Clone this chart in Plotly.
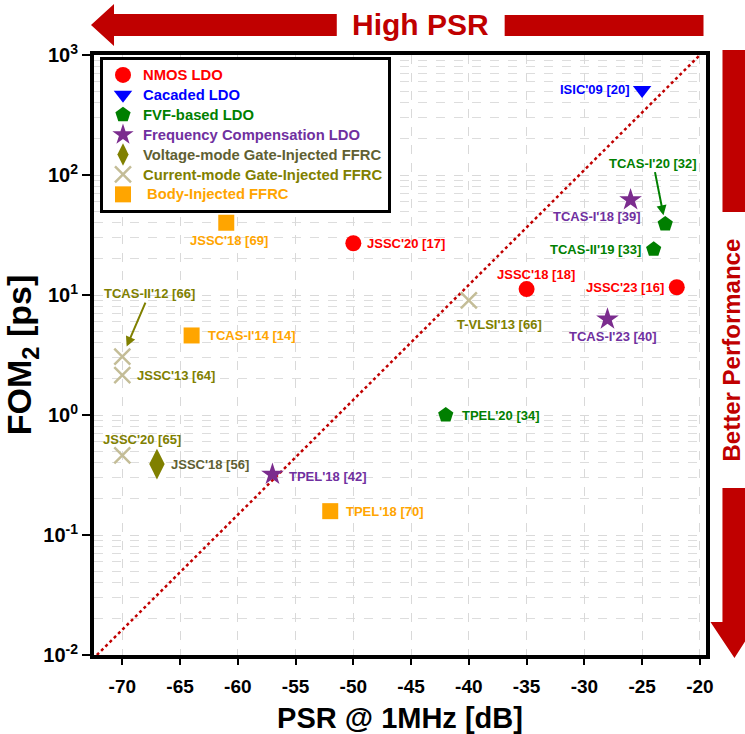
import numpy as np
import plotly.graph_objects as go

# ---------------- data ----------------
nmos_x = [-50, -35, -22]
nmos_y = [27.0, 11.2, 11.6]
nmos_lbl = ["JSSC'20 [17]", "JSSC'18 [18]", "JSSC'23 [16]"]

cas_x = [-25]
cas_y = [510.0]
cas_lbl = ["ISIC'09 [20]"]

fvf_x = [-23, -24, -42]
fvf_y = [39.0, 24.0, 1.0]
fvf_lbl = ["TCAS-I'20 [32]", "TCAS-II'19 [33]", "TPEL'20 [34]"]

fc_x = [-26, -28, -57]
fc_y = [62.0, 6.3, 0.32]
fc_lbl = ["TCAS-I'18 [39]", "TCAS-I'23 [40]", "TPEL'18 [42]"]

vm_x = [-67]
vm_y = [0.39]
vm_lbl = ["JSSC'18 [56]"]

cm_x = [-70, -70, -70, -40]
cm_y = [3.06, 2.15, 0.46, 9.0]
cm_lbl = ["TCAS-II'12 [66]", "JSSC'13 [64]", "JSSC'20 [65]", "T-VLSI'13 [66]"]

bi_x = [-61, -64, -52]
bi_y = [40.0, 4.6, 0.158]
bi_lbl = ["JSSC'18 [69]", "TCAS-I'14 [14]", "TPEL'18 [70]"]

diag_x = [-72.2, -20.0]
diag_y = [0.01, 1000.0]

x_ticks = [-70, -65, -60, -55, -50, -45, -40, -35, -30, -25, -20]
y_decades = [-2, -1, 0, 1, 2, 3]

# ---------------- styles ----------------
FONT = "Liberation Sans, Arial, sans-serif"
series = [
    dict(name="NMOS LDO", x=nmos_x, y=nmos_y, lbl=nmos_lbl, symbol="circle", size=16,
         color="#FF0000", tcolor="#FF0000", line=None),
    dict(name="Cacaded LDO", x=cas_x, y=cas_y, lbl=cas_lbl, symbol="triangle-down", size=16,
         color="#0000FF", tcolor="#0000FF", line=None),
    dict(name="FVF-based LDO", x=fvf_x, y=fvf_y, lbl=fvf_lbl, symbol="pentagon", size=16,
         color="#007F00", tcolor="#008000", line=None),
    dict(name="Frequency Compensation LDO", x=fc_x, y=fc_y, lbl=fc_lbl, symbol="star", size=17,
         color="#7B2C8E", tcolor="#7030A0", line=None),
    dict(name="Voltage-mode Gate-Injected FFRC", x=vm_x, y=vm_y, lbl=vm_lbl, symbol="diamond-tall", size=22,
         color="#808000", tcolor="#5F5F33", line=None),
    dict(name="Current-mode Gate-Injected FFRC", x=cm_x, y=cm_y, lbl=cm_lbl, symbol="x-thin", size=16,
         color="#C4BD97", tcolor="#808000", line=dict(color="#C4BD97", width=2.5)),
    dict(name="&#160;Body-Injected FFRC", x=bi_x, y=bi_y, lbl=bi_lbl, symbol="square", size=16,
         color="#FFA500", tcolor="#FFA500", line=None),
]

# label placement: (xshift, yshift, xanchor, arrow(ax, ay, standoff) or None)
label_pos = {
    "JSSC'20 [17]": (12, 0, "left", None),
    "JSSC'18 [18]": (9, 15, "center", None),
    "JSSC'23 [16]": (-11, 0, "right", None),
    "ISIC'09 [20]": (-10, 1, "right", None),
    "TCAS-I'20 [32]": (0, 0, "center", (-12, -61, 9)),
    "TCAS-II'19 [33]": (-11, 0, "right", None),
    "TPEL'20 [34]": (14, 0, "left", None),
    "TCAS-I'18 [39]": (-34, -17, "center", None),
    "TCAS-I'23 [40]": (6, -17, "center", None),
    "TPEL'18 [42]": (15, -2, "left", None),
    "JSSC'18 [56]": (12, 0, "left", None),
    "TCAS-II'12 [66]": (0, 0, "center", (27, -63, 11)),
    "JSSC'13 [64]": (13, 0, "left", None),
    "JSSC'20 [65]": (20, 16, "center", None),
    "T-VLSI'13 [66]": (31, -24, "center", None),
    "JSSC'18 [69]": (3, -18, "center", None),
    "TCAS-I'14 [14]": (14, 0, "left", None),
    "TPEL'18 [70]": (14, 0, "left", None),
}

fig = go.Figure()

# diagonal reference line
fig.add_trace(go.Scatter(x=diag_x, y=diag_y, mode="lines", showlegend=False,
                         line=dict(color="#C00000", width=2.5, dash="dot"), hoverinfo="skip"))

annotations = []
for s in series:
    mk = dict(symbol=s["symbol"], size=s["size"], color=s["color"])
    if s["line"] is not None:
        mk["line"] = s["line"]
    else:
        mk["line"] = dict(width=0)
    fig.add_trace(go.Scatter(
        x=s["x"], y=s["y"], mode="markers", marker=mk,
        name="<span style='color:%s;font-size:14.8px'><b>%s</b></span>" % (s["tcolor"], s["name"]),
    ))
    for xv, yv, lb in zip(s["x"], s["y"], s["lbl"]):
        xs, ys, xa, arrow = label_pos[lb]
        a = dict(x=xv, y=np.log10(yv), xref="x", yref="y", text="<b>%s</b>" % lb,
                 font=dict(family=FONT, size=13, color=s["tcolor"]))
        if arrow is None:
            a.update(showarrow=False, xshift=xs, yshift=ys, xanchor=xa, yanchor="middle")
        else:
            ax, ay, so = arrow
            a.update(showarrow=True, ax=ax, ay=ay, axref="pixel", ayref="pixel",
                     arrowcolor=s["tcolor"], arrowwidth=2, arrowhead=2, arrowsize=1,
                     standoff=so)
        annotations.append(a)

# ---------------- decorations (paper coordinates from pixels) ----------------
L, R, T, B = 94, 706.5, 55, 655
PW, PH = R - L, B - T


def px(xp):
    return (xp - L) / PW


def py(yp):
    return (B - yp) / PH


def path(points):
    return "M " + " L ".join("%.4f,%.4f" % (px(a), py(b)) for a, b in points) + " Z"


DRED = "#C00000"
shapes = [
    # top-left arrow
    dict(type="path", xref="paper", yref="paper", fillcolor=DRED, line=dict(width=0),
         path=path([(91, 25), (114, 4), (114, 14), (337, 14), (337, 36), (114, 36), (114, 46)])),
    # top-right bar
    dict(type="rect", xref="paper", yref="paper", fillcolor=DRED, line=dict(width=0),
         x0=px(505), x1=px(704), y0=py(15), y1=py(36)),
    # right top bar
    dict(type="rect", xref="paper", yref="paper", fillcolor=DRED, line=dict(width=0),
         x0=px(723), x1=px(746), y0=py(50), y1=py(212)),
    # right bottom arrow
    dict(type="path", xref="paper", yref="paper", fillcolor=DRED, line=dict(width=0),
         path=path([(723, 488), (746, 488), (746, 622), (758, 622), (735, 658), (711, 622), (723, 622)])),
]

annotations += [
    dict(x=px(421), y=py(25), xref="paper", yref="paper", showarrow=False,
         text="<b>High PSR</b>", font=dict(family=FONT, size=30, color=DRED),
         xanchor="center", yanchor="middle"),
    dict(x=px(732), y=py(350), xref="paper", yref="paper", showarrow=False,
         text="<b>Better Performance</b>", textangle=-90,
         font=dict(family=FONT, size=24, color=DRED), xanchor="center", yanchor="middle"),
]

minor_vals = [m * 10.0 ** d for d in y_decades[:-1] for m in range(2, 10)]

fig.update_layout(
    width=745, height=734,
    margin=dict(l=L, r=745 - R, t=T, b=734 - B, autoexpand=False),
    paper_bgcolor="white", plot_bgcolor="white",
    font=dict(family=FONT, color="black"),
    shapes=shapes, annotations=annotations,
    legend=dict(x=px(100), y=py(57), xanchor="left", yanchor="top",
                bgcolor="white", bordercolor="black", borderwidth=3,
                font=dict(family=FONT, size=13), tracegroupgap=0,
                itemsizing="trace"),
    xaxis=dict(
        range=[-72.45, -19.47], tickvals=x_ticks, ticktext=[str(v) for v in x_ticks],
        tickfont=dict(family=FONT, size=19, color="black", weight="bold"),
        showline=True, linecolor="black", linewidth=4, mirror=True, automargin=False,
        ticks="outside", ticklen=6, tickwidth=2, tickcolor="black", ticklabelstandoff=5,
        showgrid=True, gridcolor="#D9D9D9", griddash="dash", gridwidth=1, zeroline=False,
        title=dict(text="<b>PSR @ 1MHz [dB]</b>", font=dict(family=FONT, size=29, color="black"),
                   standoff=22),
    ),
    yaxis=dict(
        type="log", range=[-2, 3], automargin=False,
        tickvals=[10.0 ** d for d in y_decades],
        ticktext=["<b>10<sup>%d</sup></b>" % d for d in y_decades],
        tickfont=dict(family=FONT, size=20, color="black"),
        showline=True, linecolor="black", linewidth=4, mirror=True,
        ticks="outside", ticklen=8, tickwidth=2, tickcolor="black",
        showgrid=True, gridcolor="#D9D9D9", griddash="dash", gridwidth=1, zeroline=False,
        minor=dict(tickvals=minor_vals, showgrid=True, gridcolor="#DDDDDD", griddash="dash",
                   gridwidth=1, ticks=""),
        title=dict(text="<b>FOM<sub>2</sub> [ps]</b>", font=dict(family=FONT, size=34, color="black"),
                   standoff=2),
    ),
)

fig.write_html("out.html")
